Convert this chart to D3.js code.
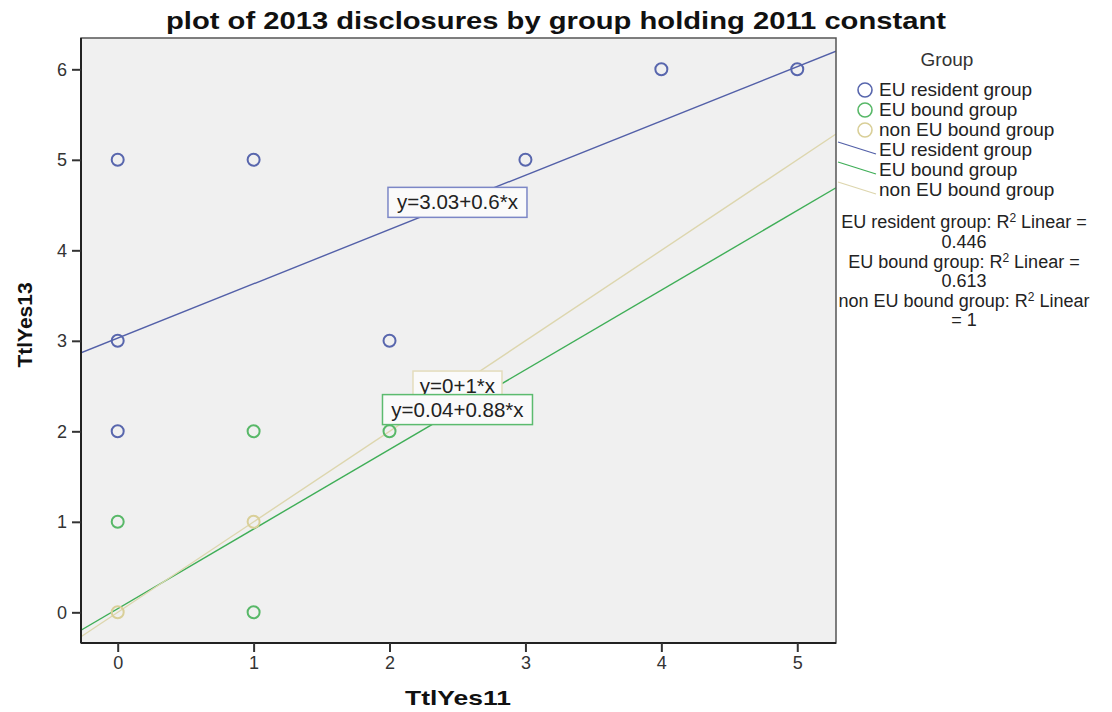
<!DOCTYPE html>
<html>
<head>
<meta charset="utf-8">
<script src="https://cdn.jsdelivr.net/npm/d3@7"></script>
<style>
  body { margin: 0; background: #fff; }
  svg { font-family: Arial, "Liberation Sans", sans-serif; }
</style>
</head>
<body>
<script>
// data
var groups = ["EU resident group", "EU bound group", "non EU bound group"];
var residentX = [0, 0, 0, 1, 2, 3, 4, 5];
var residentY = [5, 3, 2, 5, 3, 5, 6, 6];
var boundX = [0, 1, 1, 2];
var boundY = [1, 2, 0, 2];
var nonBoundX = [0, 1];
var nonBoundY = [0, 1];
var intercepts = [3.03, 0.04, 0];
var slopes = [0.6, 0.88, 1];
var fitLabels = ["y=3.03+0.6*x", "y=0.04+0.88*x", "y=0+1*x"];
var r2Values = ["0.446", "0.613", "1"];
var xTicks = [0, 1, 2, 3, 4, 5];
var yTicks = [0, 1, 2, 3, 4, 5, 6];

var pointColor = ["#5866ad", "#58b868", "#d9cf98"];
var lineColor = ["#5360a8", "#3fae57", "#ddd6ae"];
var boxColor = ["#7c87c6", "#5cbb6f", "#e4ddbd"];

var width = 1112, height = 712;
// note: "top" is taken by window.top, so keep the plot box in its own names
var plotLeft = 81, plotRight = 836, plotTop = 38, plotBottom = 643;

var svg = d3.select("body").append("svg").attr("width", width).attr("height", height);

var x = d3.scaleLinear().domain([-0.27, 5.285]).range([plotLeft, plotRight]);
var y = d3.scaleLinear().domain([-0.339, 6.346]).range([plotBottom, plotTop]);

var series = [
  d3.zip(residentX, residentY),
  d3.zip(boundX, boundY),
  d3.zip(nonBoundX, nonBoundY)
];

// title
svg.append("text").attr("x", 556).attr("y", 29).attr("text-anchor", "middle")
  .style("font-size", "24px").style("font-weight", "bold").attr("fill", "#111")
  .attr("textLength", 780).attr("lengthAdjust", "spacingAndGlyphs")
  .text("plot of 2013 disclosures by group holding 2011 constant");

// legend (drawn before the plot so the frame overlaps it like in the original)
var lg = svg.append("g");
lg.append("text").attr("x", 947).attr("y", 66).attr("text-anchor", "middle")
  .style("font-size", "19px").attr("fill", "#333").text("Group");
groups.forEach(function (name, i) {
  var cy = 90 + i * 20;
  lg.append("circle").attr("cx", 865).attr("cy", cy).attr("r", 7)
    .attr("fill", "none").attr("stroke", pointColor[i]).attr("stroke-width", 1.6);
  lg.append("text").attr("x", 879).attr("y", cy + 6).style("font-size", "19px")
    .attr("fill", "#222").text(name);
});
groups.forEach(function (name, i) {
  var cy = 150 + i * 20;
  lg.append("line").attr("x1", 838).attr("y1", cy - 8).attr("x2", 876).attr("y2", cy + 4)
    .attr("stroke", lineColor[i]).attr("stroke-width", 1.3);
  lg.append("text").attr("x", 879).attr("y", cy + 6).style("font-size", "19px")
    .attr("fill", "#222").text(name);
});
var r2Lines = [];
groups.forEach(function (name, i) {
  if (i < 2) {
    r2Lines.push([name + ": R", "2", " Linear ="]);
    r2Lines.push([r2Values[i]]);
  } else {
    r2Lines.push([name + ": R", "2", " Linear"]);
    r2Lines.push(["= " + r2Values[i]]);
  }
});
var r2Y = [228, 248, 268, 287, 307, 326];
r2Lines.forEach(function (parts, i) {
  var t = lg.append("text").attr("x", 964).attr("y", r2Y[i]).attr("text-anchor", "middle")
    .style("font-size", "18px").attr("fill", "#222");
  t.append("tspan").text(parts[0]);
  if (parts.length > 1) {
    t.append("tspan").attr("dy", -6).style("font-size", "12px").text(parts[1]);
    t.append("tspan").attr("dy", 6).text(parts[2]);
  }
});

// plot background
svg.append("rect").attr("x", plotLeft).attr("y", plotTop)
  .attr("width", plotRight - plotLeft).attr("height", plotBottom - plotTop)
  .attr("fill", "#f0f0f0");

svg.append("clipPath").attr("id", "clip").append("rect")
  .attr("x", plotLeft).attr("y", plotTop)
  .attr("width", plotRight - plotLeft).attr("height", plotBottom - plotTop);

var plot = svg.append("g").attr("clip-path", "url(#clip)");

// fit lines
var xd = x.domain();
intercepts.forEach(function (b, i) {
  plot.append("line")
    .attr("x1", x(xd[0])).attr("y1", y(b + slopes[i] * xd[0]))
    .attr("x2", x(xd[1])).attr("y2", y(b + slopes[i] * xd[1]))
    .attr("stroke", lineColor[i]).attr("stroke-width", 1.4);
});

// points
series.forEach(function (pts, i) {
  plot.selectAll(null).data(pts).enter().append("circle")
    .attr("cx", function (d) { return x(d[0]); })
    .attr("cy", function (d) { return y(d[1]); })
    .attr("r", 6)
    .attr("fill", "none").attr("stroke", pointColor[i]).attr("stroke-width", 2);
});

// equation boxes, centred on each line at x = 2.5
var labelX = 2.5;
var boxW = [139, 150, 89];
[0, 2, 1].forEach(function (i) {
  var cx = x(labelX), cy = y(intercepts[i] + slopes[i] * labelX);
  var g = plot.append("g");
  g.append("rect").attr("x", cx - boxW[i] / 2).attr("y", cy - 15).attr("width", boxW[i]).attr("height", 30)
    .attr("fill", "#fafafa").attr("stroke", boxColor[i]).attr("stroke-width", 1.5);
  g.append("text").attr("x", cx).attr("y", cy + 7).attr("text-anchor", "middle")
    .style("font-size", "20.5px").attr("fill", "#222").text(fitLabels[i]);
});

// frame
svg.append("rect").attr("x", plotLeft).attr("y", plotTop)
  .attr("width", plotRight - plotLeft).attr("height", plotBottom - plotTop)
  .attr("fill", "none").attr("stroke", "#555").attr("stroke-width", 1.5);
svg.append("line").attr("x1", plotLeft).attr("x2", plotLeft).attr("y1", plotTop).attr("y2", plotBottom)
  .attr("stroke", "#222").attr("stroke-width", 2);
svg.append("line").attr("x1", plotLeft).attr("x2", plotRight).attr("y1", plotBottom).attr("y2", plotBottom)
  .attr("stroke", "#222").attr("stroke-width", 2);

// axes
var xAxis = svg.append("g").attr("transform", "translate(0," + plotBottom + ")")
  .call(d3.axisBottom(x).tickValues(xTicks).tickSize(9).tickPadding(4).tickFormat(d3.format("d")));
var yAxis = svg.append("g").attr("transform", "translate(" + plotLeft + ",0)")
  .call(d3.axisLeft(y).tickValues(yTicks).tickSize(9).tickPadding(5).tickFormat(d3.format("d")));
[xAxis, yAxis].forEach(function (a) {
  a.select(".domain").remove();
  a.selectAll(".tick line").attr("stroke", "#333").attr("stroke-width", 2);
  a.selectAll(".tick text").style("font-size", "18px").style("font-family", "Arial, 'Liberation Sans', sans-serif")
    .attr("fill", "#333");
});

// axis titles
svg.append("text").attr("x", 458).attr("y", 705).attr("text-anchor", "middle")
  .style("font-size", "21px").style("font-weight", "bold").attr("fill", "#111")
  .attr("textLength", 106).attr("lengthAdjust", "spacingAndGlyphs").text("TtlYes11");
svg.append("text").attr("transform", "translate(32,325) rotate(-90)").attr("text-anchor", "middle")
  .style("font-size", "21px").style("font-weight", "bold").attr("fill", "#111").text("TtlYes13");
</script>
</body>
</html>
